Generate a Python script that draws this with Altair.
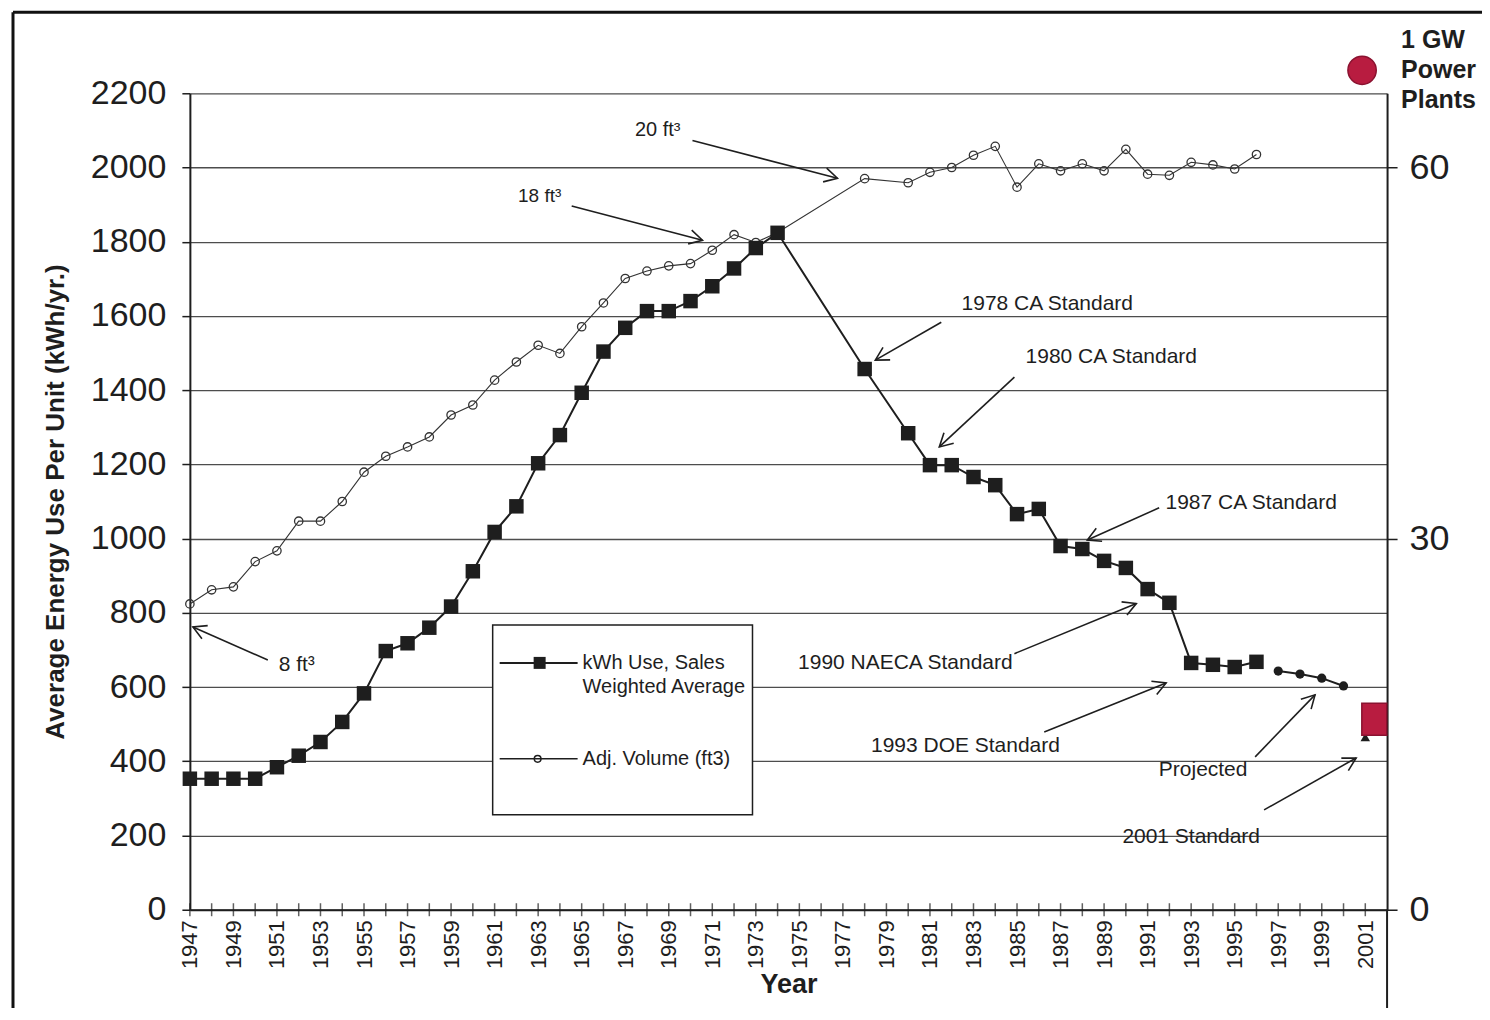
import math
import altair as alt
import pandas as pd

# ---------------- data ----------------
kwh_years = [1947, 1948, 1949, 1950, 1951, 1952, 1953, 1954, 1955, 1956, 1957, 1958, 1959, 1960,
             1961, 1962, 1963, 1964, 1965, 1966, 1967, 1968, 1969, 1970, 1971, 1972, 1973, 1974,
             1978, 1980, 1981, 1982, 1983, 1984, 1985, 1986, 1987, 1988, 1989, 1990, 1991, 1992,
             1993, 1994, 1995, 1996]
kwh_values = [353, 353, 353, 353, 384, 415, 452, 506, 583, 697, 718, 760, 817, 912,
              1018, 1087, 1203, 1279, 1393, 1504, 1568, 1613, 1613, 1640, 1680, 1728, 1783, 1824,
              1457, 1284, 1198, 1198, 1166, 1144, 1066, 1080, 980, 972, 940, 921, 864, 827,
              665, 660, 654, 668]

vol_years = kwh_years
vol_values = [824, 862, 870, 938, 967, 1047, 1047, 1100, 1179, 1222, 1247, 1274, 1333, 1360,
              1427, 1476, 1521, 1499, 1571, 1635, 1701, 1721, 1735, 1741, 1777, 1819, 1798, 1825,
              1970, 1959, 1987, 2000, 2033, 2057, 1947, 2010, 1991, 2010, 1991, 2049, 1982, 1979,
              2014, 2007, 1996, 2035]

proj_years = [1997, 1998, 1999, 2000]
proj_values = [643, 635, 624, 603]

std2001_years = [2001]
std2001_values = [465]

plant_years = [2001]
plant_counts = [15.4]

tick_years = list(range(1947, 2002))
label_years = list(range(1947, 2002, 2))
left_ticks = list(range(0, 2201, 200))
right_ticks = [0, 30, 60]

ann_text = ["20 ft\u00b3", "18 ft\u00b3", "8  ft\u00b3", "1978 CA Standard", "1980 CA Standard",
            "1987 CA Standard", "1990 NAECA Standard", "1993 DOE Standard", "Projected",
            "2001 Standard"]
ann_year = [1968.49, 1963.07, 1951.91, 1986.39, 1989.33, 1995.76, 1979.87, 1982.63, 1993.55, 1993.0]
ann_value = [2100, 1923, 660, 1632, 1489, 1096, 665, 442, 377, 197]
ann_size = [20, 19, 21, 21, 21, 21, 21, 21, 21, 21]

arrow_from_year = [1970.09, 1964.54, 1950.58, 1981.52, 1984.88, 1991.53, 1984.88, 1986.25, 1995.94, 1996.35]
arrow_from_value = [2073, 1896, 673, 1583, 1435, 1083, 690, 479, 412, 269]
arrow_to_year = [1976.75, 1970.55, 1947.14, 1978.49, 1981.43, 1988.23, 1990.48, 1991.85, 1998.69, 2000.58]
arrow_to_value = [1971, 1804, 762, 1481, 1247, 996, 825, 611, 579, 409]

legend_labels = ["kWh Use, Sales", "Weighted Average", "Adj. Volume (ft3)"]
plant_label_lines = ["1 GW", "Power", "Plants"]

# ---------------- styling ----------------
W, H = 1198, 817
X_DOMAIN = [1947, 2002]
Y_DOMAIN = [0, 2200]
R_DOMAIN = [0, 66]
FONT = "Liberation Sans"
INK = "#1e1e1e"
RED = "#b81c40"

xs = alt.Scale(domain=X_DOMAIN, nice=False, zero=False)
ys = alt.Scale(domain=Y_DOMAIN, nice=False, zero=False)
rs = alt.Scale(domain=R_DOMAIN, nice=False, zero=False)

px_year = W / (X_DOMAIN[1] - X_DOMAIN[0])
px_unit = H / (Y_DOMAIN[1] - Y_DOMAIN[0])

kwh_df = pd.DataFrame({"year": kwh_years, "kwh": kwh_values})
vol_df = pd.DataFrame({"year": vol_years, "vol": vol_values})
proj_df = pd.DataFrame({"year": proj_years, "kwh": proj_values})
std_df = pd.DataFrame({"year": std2001_years, "kwh": std2001_values})
plant_df = pd.DataFrame({"year": plant_years, "plants": plant_counts})
tick_df = pd.DataFrame({"year": tick_years, "base": [0] * len(tick_years)})
ann_df = pd.DataFrame({"label": ann_text, "year": ann_year, "value": ann_value, "fs": ann_size})
arrow_df = pd.DataFrame({"x1": arrow_from_year, "y1": arrow_from_value,
                         "x2": arrow_to_year, "y2": arrow_to_value})
arrow_df["ang"] = [
    math.degrees(math.atan2(-(b2 - b1) * px_unit, (a2 - a1) * px_year)) % 360
    for a1, b1, a2, b2 in zip(arrow_df.x1, arrow_df.y1, arrow_df.x2, arrow_df.y2)
]
one = pd.DataFrame({"k": [0]})

x_axis = alt.Axis(values=label_years, format="d", labelAngle=270, labelFontSize=22, labelFont=FONT,
                  labelColor=INK, ticks=False, domainColor=INK, domainWidth=2,
                  grid=False, labelPadding=10, labelFlush=False, labelOverlap=False,
                  title="Year", titleFont=FONT, titleFontSize=27, titleFontWeight="bold",
                  titleColor=INK, titlePadding=3)
y_axis = alt.Axis(values=left_ticks, format="d", grid=True, gridColor="#4d4d4d", gridWidth=1.3,
                  domainColor=INK, domainWidth=2, tickColor=INK, tickSize=8, tickWidth=1.5,
                  labelFontSize=34, labelFont=FONT, labelColor=INK, labelPadding=16,
                  labelFlush=False, labelOverlap=False,
                  title="Average Energy Use Per Unit (kWh/yr.)", titleFont=FONT,
                  titleFontSize=26, titleFontWeight="bold", titleColor=INK, titlePadding=22)
r_axis = alt.Axis(orient="right", values=right_ticks, format="d", grid=False, domainColor=INK,
                  domainWidth=2, tickColor=INK, tickSize=10, tickWidth=1.5, labelFontSize=36,
                  labelFont=FONT, labelColor=INK, labelPadding=12, labelFlush=False, title=None)


def X(field):
    return alt.X(field, scale=xs, axis=None)


def Y(field):
    return alt.Y(field, scale=ys, axis=None)


# frame decoration
frame_top = alt.Chart(one).mark_rule(color="#111111", strokeWidth=3).encode(
    x=alt.value(-177), x2=alt.value(1300), y=alt.value(-81))
frame_left = alt.Chart(one).mark_rule(color="#111111", strokeWidth=3).encode(
    x=alt.value(-177), y=alt.value(-81), y2=alt.value(930))
right_ext = alt.Chart(one).mark_rule(color=INK, strokeWidth=2).encode(
    x=alt.value(W), y=alt.value(H), y2=alt.value(930))

# axes carrier (left scale) and x-axis crossing ticks
kwh_line = alt.Chart(kwh_df).mark_line(color=INK, strokeWidth=2).encode(
    x=alt.X("year:Q", scale=xs, axis=x_axis), y=alt.Y("kwh:Q", scale=ys, axis=y_axis))
xticks = alt.Chart(tick_df).mark_tick(orient="vertical", size=13, thickness=1.5, color=INK).encode(
    x=X("year:Q"), y=Y("base:Q"))

# series
vol_line = alt.Chart(vol_df).mark_line(color="#333333", strokeWidth=1.1).encode(
    x=X("year:Q"), y=Y("vol:Q"))
vol_pts = alt.Chart(vol_df).mark_point(shape="circle", filled=False, size=70, color="#333333",
                                       strokeWidth=1.3, opacity=1).encode(x=X("year:Q"), y=Y("vol:Q"))
kwh_pts = alt.Chart(kwh_df).mark_point(shape="square", filled=True, size=210, color=INK,
                                       opacity=1).encode(x=X("year:Q"), y=Y("kwh:Q"))
proj_line = alt.Chart(proj_df).mark_line(color=INK, strokeWidth=2).encode(
    x=X("year:Q"), y=Y("kwh:Q"))
proj_pts = alt.Chart(proj_df).mark_point(shape="circle", filled=True, size=85, color=INK,
                                         opacity=1).encode(x=X("year:Q"), y=Y("kwh:Q"))
std_pts = alt.Chart(std_df).mark_point(shape="triangle-up", filled=True, size=90, color=INK,
                                       opacity=1).encode(x=X("year:Q"), y=Y("kwh:Q"))

# annotations
arrows = alt.Chart(arrow_df).mark_rule(color=INK, strokeWidth=1.6).encode(
    x=X("x1:Q"), y=Y("y1:Q"), x2="x2:Q", y2="y2:Q")
heads = alt.Chart(arrow_df).mark_point(shape="M-1,-0.55L0,0L-1,0.55", filled=False, size=676,
                                       color=INK, strokeWidth=1.6, opacity=1).encode(
    x=X("x2:Q"), y=Y("y2:Q"), angle=alt.Angle("ang:Q", scale=None))
ann = alt.Chart(ann_df).mark_text(font=FONT, color=INK, align="center", baseline="middle").encode(
    x=X("year:Q"), y=Y("value:Q"), text="label:N", size=alt.Size("fs:Q", scale=None, legend=None))

# legend box (drawn in pixel space)
leg_box = alt.Chart(one).mark_rect(fill="white", stroke=INK, strokeWidth=1.5).encode(
    x=alt.value(303), x2=alt.value(563), y=alt.value(532), y2=alt.value(722))
leg_l1 = alt.Chart(one).mark_rule(color=INK, strokeWidth=2).encode(
    x=alt.value(310), x2=alt.value(388), y=alt.value(570))
leg_p1 = alt.Chart(one).mark_point(shape="square", filled=True, size=144, color=INK, opacity=1).encode(
    x=alt.value(350), y=alt.value(570))
leg_l2 = alt.Chart(one).mark_rule(color=INK, strokeWidth=1.5).encode(
    x=alt.value(310), x2=alt.value(388), y=alt.value(666))
leg_p2 = alt.Chart(one).mark_point(shape="circle", filled=False, size=45, color=INK,
                                   strokeWidth=1.5, opacity=1).encode(x=alt.value(348), y=alt.value(666))
leg_t = [alt.Chart(one).mark_text(font=FONT, fontSize=20, color=INK, align="left", baseline="middle",
                                  text=t).encode(x=alt.value(393), y=alt.value(yy))
         for t, yy in zip(legend_labels, [570, 594, 666])]

# power plant legend (outside plot, top right)
pp_dot = alt.Chart(one).mark_point(shape="circle", filled=True, size=804, fill=RED, stroke="#8a1230",
                                   strokeWidth=1.5, opacity=1).encode(x=alt.value(1173), y=alt.value(-23))
pp_t = [alt.Chart(one).mark_text(font=FONT, fontSize=25, fontWeight="bold", color=INK, align="left",
                                 baseline="middle", text=t).encode(x=alt.value(1212), y=alt.value(yy))
        for t, yy in zip(plant_label_lines, [-53, -23, 7])]

plant = alt.Chart(plant_df).mark_point(shape="M-0.78,-1H0.78V1H-0.78Z", filled=True, size=1024,
                                       fill=RED, stroke="#8a1230", strokeWidth=1.5, opacity=1).encode(
    x=alt.X("year:Q", scale=xs, axis=None),
    y=alt.Y("plants:Q", scale=rs, axis=r_axis),
    xOffset=alt.value(9),
)

chart = alt.layer(
    kwh_line, frame_top, frame_left, right_ext, xticks, leg_box, leg_l1, leg_p1, leg_l2, leg_p2, *leg_t,
    vol_line, vol_pts, kwh_pts, proj_line, proj_pts, std_pts, arrows, heads, ann, pp_dot, *pp_t,
    plant,
).resolve_scale(x="independent", y="independent").properties(
    width=W, height=H,
    autosize=alt.AutoSizeParams(type="none"),
    padding={"left": 182, "top": 85, "right": 95, "bottom": 98},
    background="white",
).configure_view(stroke=None)

chart.save("out.html", embed_options={"renderer": "svg", "actions": False})
